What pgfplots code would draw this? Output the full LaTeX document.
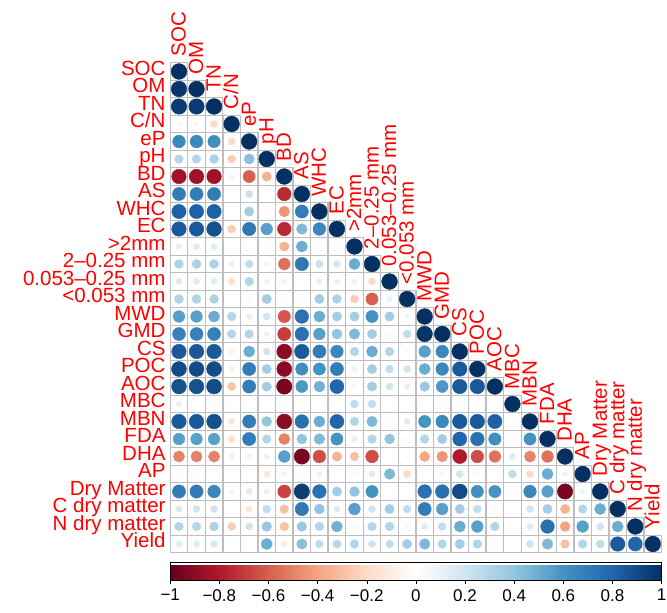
\documentclass[border=0pt]{standalone}
\usepackage{pgfplots}
\pgfplotsset{compat=1.18}
\usepackage{pgfplotstable}
\usepackage{fontspec}
\setmainfont{Liberation Sans}
\definecolor{gridgray}{RGB}{190,190,190}
\definecolor{lblred}{RGB}{255,0,0}

\pgfplotstableread[row sep=\\]{
x y r\\
1 1 1\\
1 2 0.98\\ 2 2 1\\
1 3 0.96\\ 2 3 0.96\\ 3 3 1\\
1 4 -0.05\\ 2 4 -0.07\\ 3 4 -0.2\\ 4 4 1\\
1 5 0.65\\ 2 5 0.65\\ 3 5 0.62\\ 4 5 -0.2\\ 5 5 1\\
1 6 0.3\\ 2 6 0.3\\ 3 6 0.32\\ 4 6 -0.25\\ 5 6 0.42\\ 6 6 1\\
1 7 -0.85\\ 2 7 -0.85\\ 3 7 -0.85\\ 4 7 0.07\\ 5 7 -0.6\\ 6 7 -0.35\\ 7 7 1\\
1 8 0.7\\ 2 8 0.7\\ 3 8 0.7\\ 4 8 0.03\\ 5 8 0.22\\ 6 8 0.02\\ 7 8 -0.75\\ 8 8 1\\
1 9 0.82\\ 2 9 0.82\\ 3 9 0.82\\ 4 9 0.03\\ 5 9 0.35\\ 6 9 -0.05\\ 7 9 -0.45\\ 8 9 0.7\\ 9 9 1\\
1 10 0.85\\ 2 10 0.85\\ 3 10 0.88\\ 4 10 -0.25\\ 5 10 0.72\\ 6 10 0.55\\ 7 10 -0.75\\ 8 10 0.45\\ 9 10 0.65\\ 10 10 1\\
1 11 0.12\\ 2 11 0.15\\ 3 11 0.15\\ 4 11 0.03\\ 5 11 0.03\\ 6 11 0.04\\ 7 11 -0.35\\ 8 11 0.5\\ 9 11 0.03\\ 10 11 0.03\\ 11 11 1\\
1 12 0.32\\ 2 12 0.32\\ 3 12 0.32\\ 4 12 -0.12\\ 5 12 0.25\\ 6 12 -0.08\\ 7 12 -0.55\\ 8 12 0.72\\ 9 12 0.22\\ 10 12 0.18\\ 11 12 0.5\\ 12 12 1\\
1 13 0.15\\ 2 13 0.15\\ 3 13 0.15\\ 4 13 -0.18\\ 5 13 0.3\\ 6 13 0.1\\ 7 13 -0.1\\ 8 13 -0.03\\ 9 13 0.12\\ 10 13 0.1\\ 11 13 0.1\\ 12 13 -0.2\\ 13 13 1\\
1 14 0.32\\ 2 14 0.32\\ 3 14 0.32\\ 4 14 -0.03\\ 5 14 0.05\\ 6 14 0.35\\ 7 14 -0.03\\ 8 14 0.04\\ 9 14 0.35\\ 10 14 0.32\\ 11 14 -0.25\\ 12 14 -0.6\\ 13 14 0.1\\ 14 14 1\\
1 15 0.55\\ 2 15 0.55\\ 3 15 0.5\\ 4 15 0.3\\ 5 15 0.12\\ 6 15 0.2\\ 7 15 -0.62\\ 8 15 0.75\\ 9 15 0.5\\ 10 15 0.35\\ 11 15 0.35\\ 12 15 0.6\\ 13 15 0.35\\ 14 15 0.08\\ 15 15 1\\
1 16 0.68\\ 2 16 0.68\\ 3 16 0.68\\ 4 16 0.3\\ 5 16 0.3\\ 6 16 0.1\\ 7 16 -0.7\\ 8 16 0.75\\ 9 16 0.55\\ 10 16 0.4\\ 11 16 0.45\\ 12 16 0.35\\ 13 16 0.05\\ 14 16 0.25\\ 15 16 0.98\\ 16 16 1\\
1 17 0.85\\ 2 17 0.85\\ 3 17 0.85\\ 4 17 -0.08\\ 5 17 0.5\\ 6 17 0.2\\ 7 17 -0.9\\ 8 17 0.85\\ 9 17 0.7\\ 10 17 0.65\\ 11 17 0.3\\ 12 17 0.5\\ 13 17 0.3\\ 14 17 0.05\\ 15 17 0.55\\ 16 17 0.65\\ 17 17 1\\
1 18 0.9\\ 2 18 0.9\\ 3 18 0.9\\ 4 18 -0.1\\ 5 18 0.7\\ 6 18 0.35\\ 7 18 -0.9\\ 8 18 0.62\\ 9 18 0.6\\ 10 18 0.7\\ 11 18 0.1\\ 12 18 0.35\\ 13 18 0.25\\ 14 18 0.2\\ 15 18 0.5\\ 16 18 0.65\\ 17 18 0.85\\ 18 18 1\\
1 19 0.88\\ 2 19 0.88\\ 3 19 0.9\\ 4 19 -0.28\\ 5 19 0.7\\ 6 19 0.35\\ 7 19 -0.95\\ 8 19 0.58\\ 9 19 0.48\\ 10 19 0.8\\ 11 19 0.06\\ 12 19 0.35\\ 13 19 0.2\\ 14 19 0.12\\ 15 19 0.38\\ 16 19 0.58\\ 17 19 0.85\\ 18 19 0.85\\ 19 19 1\\
1 20 0.12\\ 2 20 0\\ 3 20 0.04\\ 4 20 0.04\\ 5 20 0\\ 6 20 0\\ 7 20 -0.04\\ 8 20 0.02\\ 9 20 0\\ 10 20 0\\ 11 20 0.25\\ 12 20 0.25\\ 13 20 0.02\\ 14 20 0\\ 15 20 0\\ 16 20 0.03\\ 17 20 0.03\\ 18 20 0\\ 19 20 0\\ 20 20 1\\
1 21 0.85\\ 2 21 0.85\\ 3 21 0.88\\ 4 21 -0.15\\ 5 21 0.7\\ 6 21 0.4\\ 7 21 -0.9\\ 8 21 0.75\\ 9 21 0.5\\ 10 21 0.8\\ 11 21 0.3\\ 12 21 0.45\\ 13 21 0.03\\ 14 21 0.15\\ 15 21 0.6\\ 16 21 0.65\\ 17 21 0.85\\ 18 21 0.85\\ 19 21 0.82\\ 20 21 0\\ 21 21 1\\
1 22 0.55\\ 2 22 0.55\\ 3 22 0.55\\ 4 22 -0.18\\ 5 22 0.7\\ 6 22 0.3\\ 7 22 -0.5\\ 8 22 0.4\\ 9 22 0.45\\ 10 22 0.6\\ 11 22 0.12\\ 12 22 0.3\\ 13 22 0.4\\ 14 22 0.05\\ 15 22 0.3\\ 16 22 0.35\\ 17 22 0.8\\ 18 22 0.75\\ 19 22 0.62\\ 20 22 0\\ 21 22 0.6\\ 22 22 1\\
1 23 -0.5\\ 2 23 -0.5\\ 3 23 -0.5\\ 4 23 0.1\\ 5 23 -0.1\\ 6 23 0.1\\ 7 23 0.55\\ 8 23 -0.95\\ 9 23 -0.65\\ 10 23 -0.35\\ 11 23 -0.3\\ 12 23 -0.65\\ 13 23 0.03\\ 14 23 0.05\\ 15 23 -0.4\\ 16 23 -0.45\\ 17 23 -0.8\\ 18 23 -0.65\\ 19 23 -0.55\\ 20 23 0.15\\ 21 23 -0.5\\ 22 23 -0.55\\ 23 23 1\\
1 24 0.03\\ 2 24 0.03\\ 3 24 0.02\\ 4 24 -0.03\\ 5 24 0.03\\ 6 24 -0.15\\ 7 24 -0.08\\ 8 24 0.03\\ 9 24 0.1\\ 10 24 0.02\\ 11 24 0.05\\ 12 24 0.15\\ 13 24 0.45\\ 14 24 -0.2\\ 15 24 0.02\\ 16 24 0.05\\ 17 24 0.2\\ 18 24 0.05\\ 19 24 0.03\\ 20 24 0.25\\ 21 24 -0.2\\ 22 24 0.5\\ 23 24 -0.1\\ 24 24 1\\
1 25 0.7\\ 2 25 0.7\\ 3 25 0.65\\ 4 25 0.08\\ 5 25 0.15\\ 6 25 -0.12\\ 7 25 -0.68\\ 8 25 0.95\\ 9 25 0.75\\ 10 25 0.35\\ 11 25 0.4\\ 12 25 0.6\\ 13 25 0.02\\ 14 25 0.02\\ 15 25 0.75\\ 16 25 0.75\\ 17 25 0.9\\ 18 25 0.62\\ 19 25 0.6\\ 20 25 0\\ 21 25 0.65\\ 22 25 0.55\\ 23 25 -0.95\\ 24 25 0.1\\ 25 25 1\\
1 26 0.18\\ 2 26 0.2\\ 3 26 0.2\\ 4 26 0.03\\ 5 26 -0.15\\ 6 26 0.25\\ 7 26 -0.3\\ 8 26 0.72\\ 9 26 0.4\\ 10 26 0.15\\ 11 26 0.55\\ 12 26 0.2\\ 13 26 0.35\\ 14 26 0.25\\ 15 26 0.7\\ 16 26 0.55\\ 17 26 0.35\\ 18 26 0.25\\ 19 26 0.05\\ 20 26 0\\ 21 26 0.2\\ 22 26 0.35\\ 23 26 -0.35\\ 24 26 0.3\\ 25 26 0.5\\ 26 26 1\\
1 27 0.3\\ 2 27 0.3\\ 3 27 0.32\\ 4 27 -0.25\\ 5 27 0.2\\ 6 27 0.38\\ 7 27 -0.3\\ 8 27 0.38\\ 9 27 0.3\\ 10 27 0.48\\ 11 27 0.05\\ 12 27 0.3\\ 13 27 0.3\\ 14 27 0.05\\ 15 27 0.15\\ 16 27 0.25\\ 17 27 0.5\\ 18 27 0.55\\ 19 27 0.3\\ 20 27 0\\ 21 27 0.15\\ 22 27 0.75\\ 23 27 -0.4\\ 24 27 0.55\\ 25 27 0.2\\ 26 27 0.5\\ 27 27 1\\
1 28 0.15\\ 2 28 0.15\\ 3 28 0.18\\ 4 28 -0.05\\ 5 28 0.03\\ 6 28 0.5\\ 7 28 -0.12\\ 8 28 0.42\\ 9 28 0.25\\ 10 28 0.28\\ 11 28 0.3\\ 12 28 0.2\\ 13 28 0.25\\ 14 28 0.35\\ 15 28 0.45\\ 16 28 0.3\\ 17 28 0.35\\ 18 28 0.3\\ 19 28 0.05\\ 20 28 0\\ 21 28 0.2\\ 22 28 0.45\\ 23 28 -0.3\\ 24 28 0.3\\ 25 28 0.25\\ 26 28 0.85\\ 27 28 0.8\\ 28 28 1\\
}\corr

\newcommand{\lblfont}{\fontsize{20.5}{24}\selectfont}
\tikzset{collbl/.style={rotate=90, anchor=west, text=lblred, font=\lblfont, inner sep=0pt, text height=0.72em, text depth=0pt}}

\begin{document}
\begin{tikzpicture}
\begin{axis}[
  at={(0,0)}, anchor=south west,
  scale only axis, width=491.4pt, height=490pt,
  xmin=0.5, xmax=28.5, ymin=0.5, ymax=28.5, y dir=reverse,
  axis line style={draw=none},
  xtick=\empty,
  ytick={1,...,28},
  yticklabels={SOC,OM,TN,C/N,eP,pH,BD,AS,WHC,EC,{>2mm},{2–0.25 mm},{0.053–0.25 mm},{<0.053 mm},MWD,GMD,CS,POC,AOC,MBC,MBN,FDA,DHA,AP,Dry Matter,C dry matter,N dry matter,Yield},
  yticklabel style={font=\lblfont, text=lblred, inner sep=0pt, xshift=-4.5pt, text height=0.72em, text depth=0pt},
  major tick length=0pt,
  clip=false,
  colormap={rdbu}{rgb255=(103,0,31) rgb255=(178,24,43) rgb255=(214,96,77) rgb255=(244,165,130) rgb255=(253,219,199) rgb255=(255,255,255) rgb255=(209,229,240) rgb255=(146,197,222) rgb255=(67,147,195) rgb255=(33,102,172) rgb255=(5,48,97)},
  point meta min=-1, point meta max=1,
  colorbar horizontal,
  colorbar style={
    at={(0,-0.0194)}, anchor=north west,
    scale only axis, width=491.4pt, height=17.7pt,
    xtick={-1,-0.8,-0.6,-0.4,-0.2,0,0.2,0.4,0.6,0.8,1},
    xticklabels={−1,−0.8,−0.6,−0.4,−0.2,0,0.2,0.4,0.6,0.8,1},
    xticklabel style={font=\fontsize{17}{20}\selectfont, text=black, inner sep=4.5pt},
    xtick pos=left, xticklabel pos=left,
    tick align=outside, major tick length=4.5pt,
    xtick style={draw=black, line width=0.5pt},
    axis line style={draw=black, line width=0.5pt},
    ytick=\empty,
  },
]
\addplot[only marks, mark=square*, mark size=8.76pt,
  mark options={draw=gridgray, fill=white, line width=1.3pt}] table[x=x,y=y] {\corr};
\addplot[scatter, only marks, mark=*, point meta=\thisrow{r},
  scatter/use mapped color={draw=mapped color, fill=mapped color},
  visualization depends on={sqrt(abs(\thisrow{r})) \as \rs},
  scatter/@pre marker code/.append style={/tikz/mark size={7.9*\rs}}] table[x=x,y=y] {\corr};
\node[collbl] at (axis cs:1.17,0.16) {SOC};
\node[collbl] at (axis cs:2.17,1.16) {OM};
\node[collbl] at (axis cs:3.17,2.16) {TN};
\node[collbl] at (axis cs:4.17,3.16) {C/N};
\node[collbl] at (axis cs:5.17,4.16) {eP};
\node[collbl] at (axis cs:6.17,5.16) {pH};
\node[collbl] at (axis cs:7.17,6.16) {BD};
\node[collbl] at (axis cs:8.17,7.16) {AS};
\node[collbl] at (axis cs:9.17,8.16) {WHC};
\node[collbl] at (axis cs:10.17,9.16) {EC};
\node[collbl] at (axis cs:11.17,10.16) {>2mm};
\node[collbl] at (axis cs:12.17,11.16) {2–0.25 mm};
\node[collbl] at (axis cs:13.17,12.16) {0.053–0.25 mm};
\node[collbl] at (axis cs:14.17,13.16) {<0.053 mm};
\node[collbl] at (axis cs:15.17,14.16) {MWD};
\node[collbl] at (axis cs:16.17,15.16) {GMD};
\node[collbl] at (axis cs:17.17,16.16) {CS};
\node[collbl] at (axis cs:18.17,17.16) {POC};
\node[collbl] at (axis cs:19.17,18.16) {AOC};
\node[collbl] at (axis cs:20.17,19.16) {MBC};
\node[collbl] at (axis cs:21.17,20.16) {MBN};
\node[collbl] at (axis cs:22.17,21.16) {FDA};
\node[collbl] at (axis cs:23.17,22.16) {DHA};
\node[collbl] at (axis cs:24.17,23.16) {AP};
\node[collbl] at (axis cs:25.17,24.16) {Dry Matter};
\node[collbl] at (axis cs:26.17,25.16) {C dry matter};
\node[collbl] at (axis cs:27.17,26.16) {N dry matter};
\node[collbl] at (axis cs:28.17,27.16) {Yield};
\end{axis}
\pgfresetboundingbox
\path[use as bounding box] (-170.2pt,-60.25pt) rectangle (496.8pt,552.75pt);
\end{tikzpicture}
\end{document}
